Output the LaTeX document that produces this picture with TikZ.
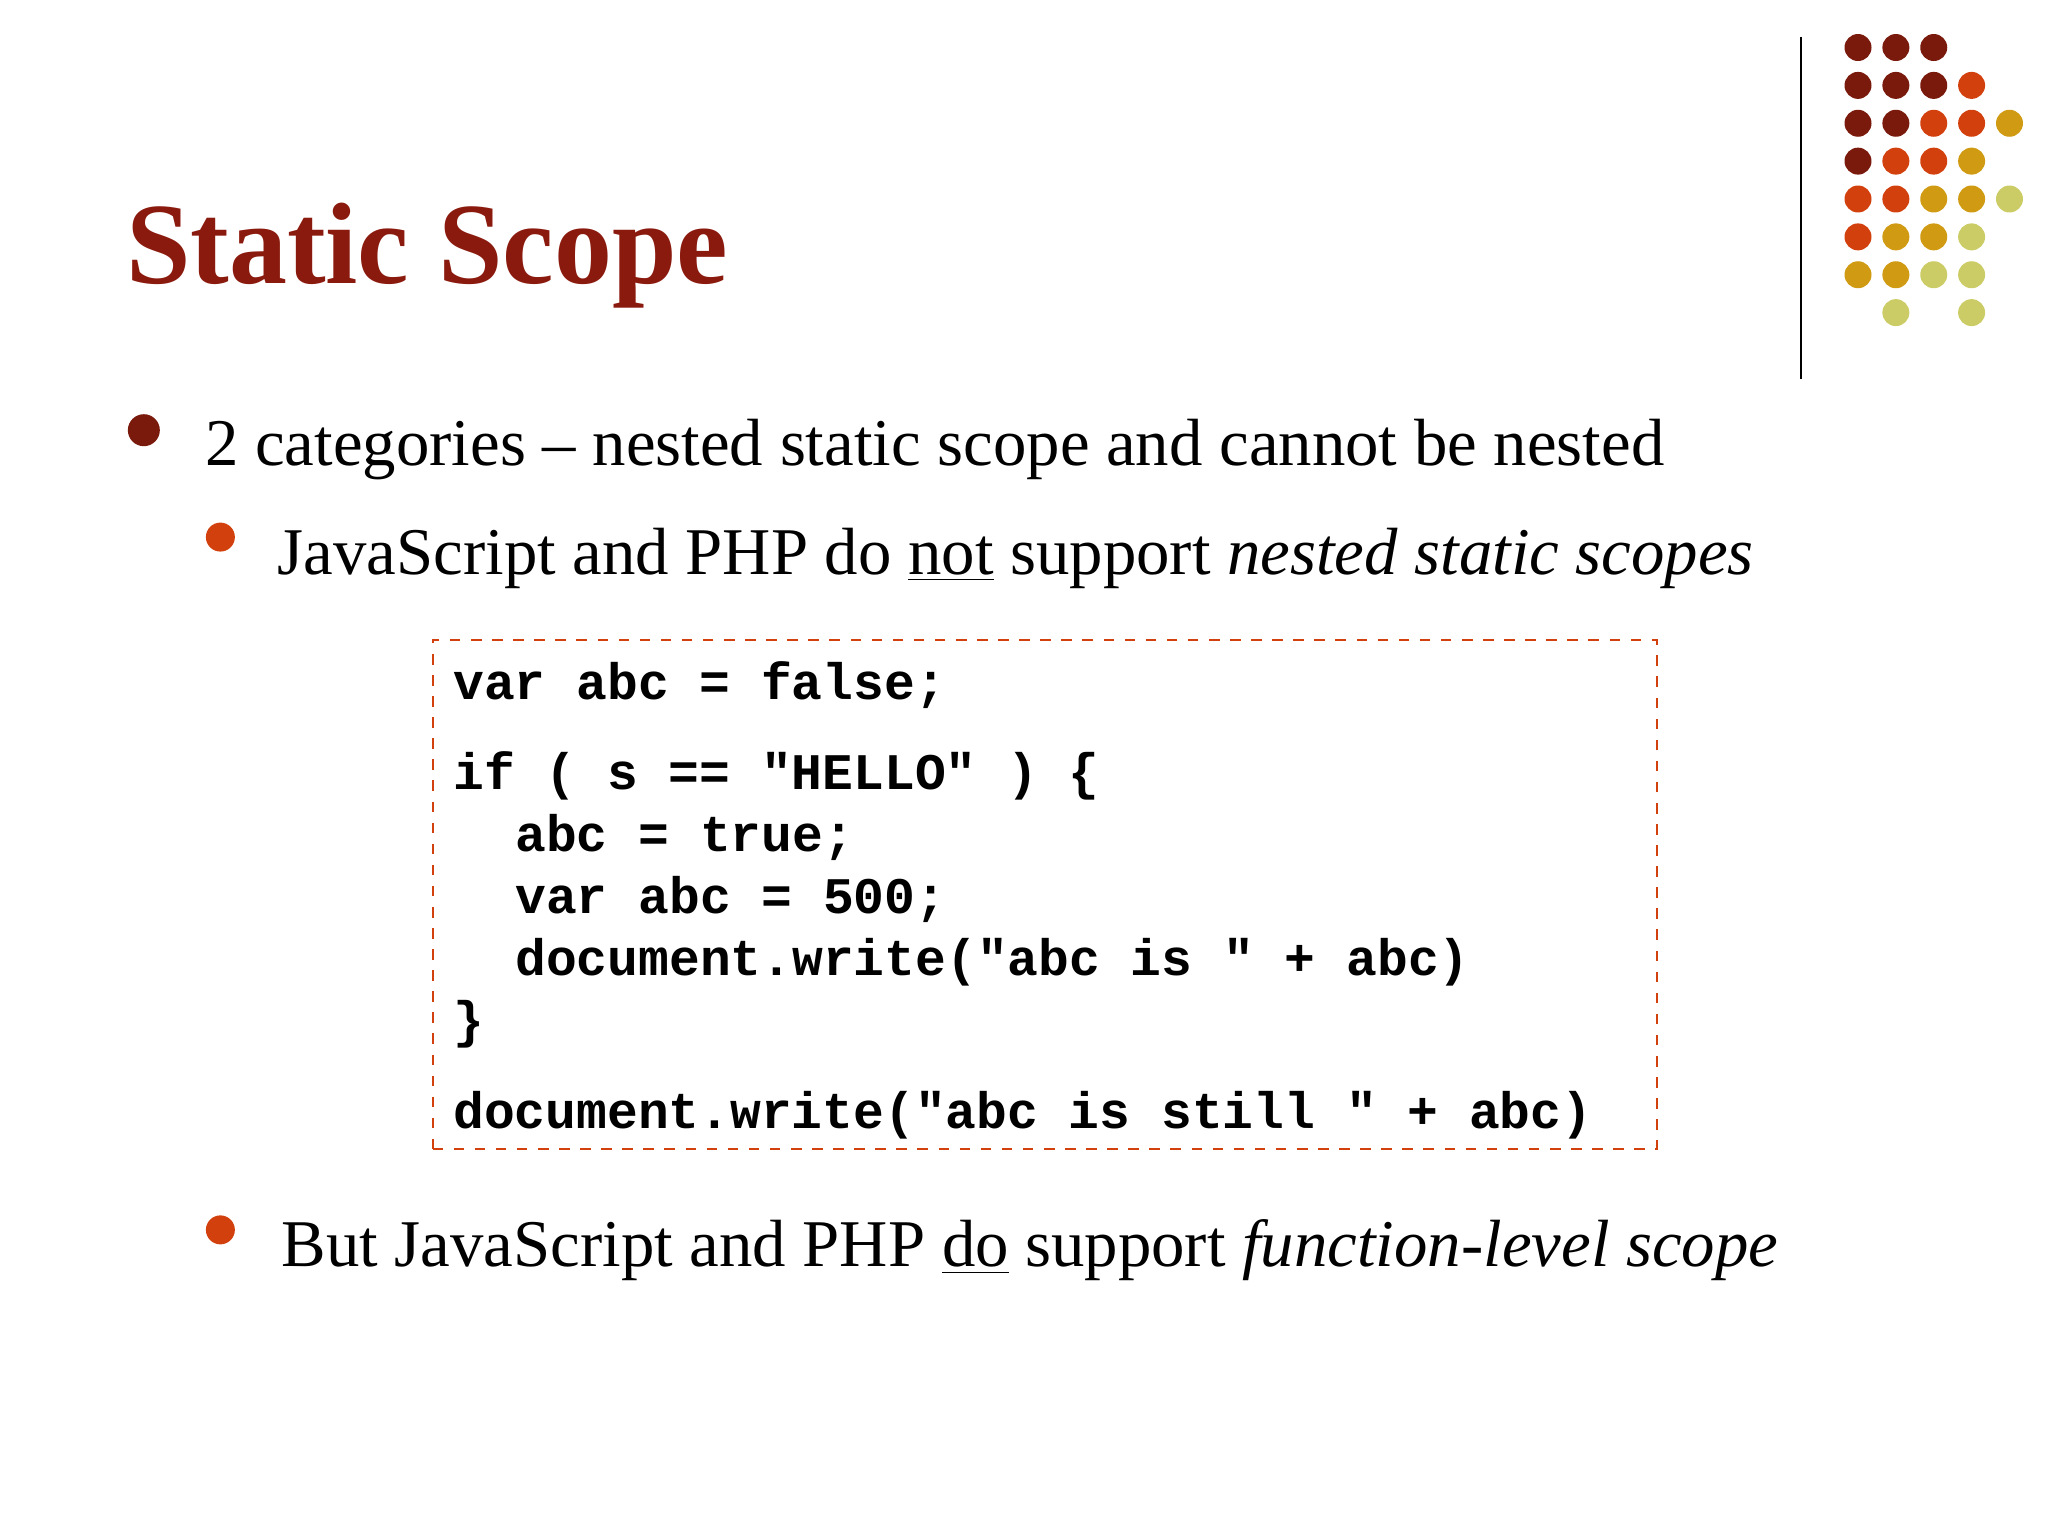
\documentclass[tikz,border=0pt]{standalone}
\usepackage{fontspec}
\setmainfont{Liberation Serif}
\setmonofont{Liberation Mono}
\definecolor{dk}{HTML}{7A1A0C}
\definecolor{og}{HTML}{D2400E}
\definecolor{gd}{HTML}{D09A12}
\definecolor{lg}{HTML}{CCCC66}
\definecolor{ttl}{HTML}{8B1A0E}
\begin{document}
\begin{tikzpicture}[x=0.0132cm,y=-0.0132cm,
  body/.style={anchor=base west,inner sep=0pt,font=\fontsize{19}{19}\selectfont},
  code/.style={anchor=base west,inner sep=0pt,font=\fontsize{14.6}{14.6}\selectfont\ttfamily\bfseries},
  dot/.style={circle,inner sep=0pt,minimum size=0.27cm}]
\useasboundingbox (0,0) rectangle (1552,1164);
% dots
\foreach \c/\r/\k in {0/0/dk,1/0/dk,2/0/dk,0/1/dk,1/1/dk,2/1/dk,3/1/og,
 0/2/dk,1/2/dk,2/2/og,3/2/og,4/2/gd,0/3/dk,1/3/og,2/3/og,3/3/gd,
 0/4/og,1/4/og,2/4/gd,3/4/gd,4/4/lg,0/5/og,1/5/gd,2/5/gd,3/5/lg,
 0/6/gd,1/6/gd,2/6/lg,3/6/lg,1/7/lg,3/7/lg}
  \node[dot,fill=\k] (d\c\r) at ({1408+28.7*\c},{36+28.7*\r}) {};
\coordinate (la) at (1365,28); \coordinate (lb) at (1365,287);
\draw[line width=0.7pt] (la) -- (lb);
\node[anchor=base west,inner sep=0pt,text=ttl,font=\fontsize{33}{33}\selectfont\bfseries] (title) at (95,215) {Static Scope};
\node[dot,fill=dk,minimum size=0.32cm] (b1) at (109,326) {};
\node[body] (t1) at (155,353) {2 categories -- nested static scope and cannot be nested};
\node[dot,fill=og,minimum size=0.29cm] (b2) at (167,407) {};
\node[body] (t2) at (210,435) {JavaScript and PHP do \underline{not} support \textit{nested static scopes}};
\node[draw=og,dashed,line width=0.6pt,minimum width=928*0.0132cm,minimum height=386*0.0132cm,anchor=north west,inner sep=0] (box) at (327,484) {};
\node[code] (c1) at (343,530) {var abc = false;};
\node[code] (c2) at (343,598) {if ( s == "HELLO" ) \{};
\node[code] (c3) at (390,645) {abc = true;};
\node[code] (c4) at (390,692) {var abc = 500;};
\node[code] (c5) at (390,739) {document.write("abc is " + abc)};
\node[code] (c6) at (343,786) {\}};
\node[code] (c7) at (343,855) {document.write("abc is still " + abc)};
\node[dot,fill=og,minimum size=0.29cm] (b3) at (167,932) {};
\node[body] (t3) at (213,960) {But JavaScript and PHP \underline{do} support \textit{function-level scope}};
\end{tikzpicture}
\end{document}
